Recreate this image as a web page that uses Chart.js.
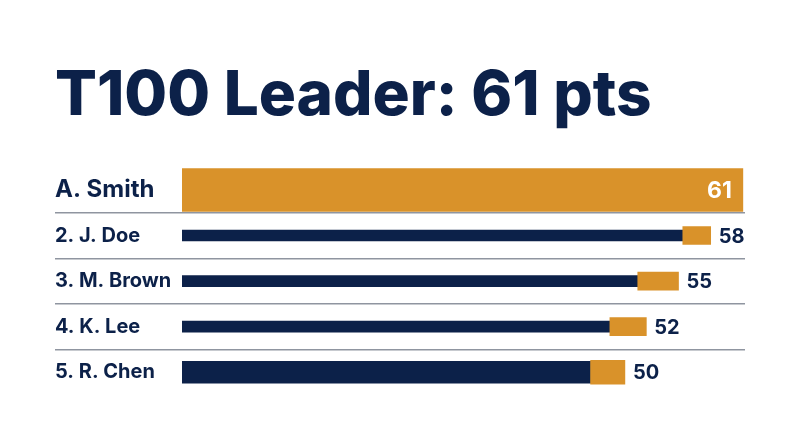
<html>
<head>
<meta charset="utf-8">
<title>T100 Leader</title>
<script src="https://cdn.jsdelivr.net/npm/chart.js@4.4.1/dist/chart.umd.min.js"></script>
<style>
    html, body { margin: 0; padding: 0; background: #ffffff; }
    .container { width: 800px; height: 447px; }
</style>
</head>
<body>
<div class="container">
    <canvas id="leaderChart"></canvas>
</div>
<script>
    // standings
    const players = ['A. Smith', '2. J. Doe', '3. M. Brown', '4. K. Lee', '5. R. Chen'];
    const points = [61, 58, 55, 52, 50];
    // where the gold (recent) part of each trailing bar starts
    const recentFrom = [null, 55.4, 51.2, 48.6, 46.8];

    const gold = '#d9922a';
    const navy = '#0c2149';
    const rule = '#8f95a0';

    // leader row, rows 2-4, and the last row use different bar thickness
    let leaderData = points.map(function (v, i) { return i === 0 ? v : null; });
    let trailData = points.map(function (v, i) { return (i > 0 && i < 4) ? recentFrom[i] : null; });
    let lastData = points.map(function (v, i) { return i === 4 ? recentFrom[i] : null; });
    let capData = points.map(function (v, i) { return (i > 0 && i < 4) ? [recentFrom[i], v] : null; });
    let lastCapData = points.map(function (v, i) { return i === 4 ? [recentFrom[i], v] : null; });

    const valueLabels = {
        id: 'valueLabels',
        afterDatasetsDraw(chart) {
            let ctx = chart.ctx;
            let xs = chart.scales.x;
            let ys = chart.scales.y;
            ctx.save();
            ctx.textBaseline = 'middle';
            points.forEach(function (v, i) {
                let x = xs.getPixelForValue(v);
                let y = ys.getPixelForValue(i);
                if (i === 0) {
                    ctx.font = 'bold 23px Inter';
                    ctx.fillStyle = '#ffffff';
                    ctx.textAlign = 'right';
                    ctx.fillText(String(v), x - 11, y + 1);
                } else {
                    ctx.font = 'bold 20px Inter';
                    ctx.fillStyle = navy;
                    ctx.textAlign = 'left';
                    ctx.fillText(String(v), x + 8, y + 1);
                }
            });
            ctx.restore();
        }
    };

    var ctx = document.getElementById('leaderChart').getContext('2d');
    var myChart = new Chart(ctx, {
        type: 'bar',
        data: {
            labels: players,
            datasets: [{
                label: 'Recent',
                data: capData,
                backgroundColor: gold,
                barThickness: 18
            }, {
                label: 'Recent last',
                data: lastCapData,
                backgroundColor: gold,
                barThickness: 24
            }, {
                label: 'Leader',
                data: leaderData,
                backgroundColor: gold,
                barThickness: 43
            }, {
                label: 'Earlier',
                data: trailData,
                backgroundColor: navy,
                barThickness: 11
            }, {
                label: 'Earlier last',
                data: lastData,
                backgroundColor: navy,
                barThickness: 22
            }]
        },
        options: {
            indexAxis: 'y',
            responsive: true,
            maintainAspectRatio: false,
            animation: false,
            datasets: {
                bar: { grouped: false, borderSkipped: false }
            },
            layout: {
                padding: { left: 55, right: 55, top: 0, bottom: 52 }
            },
            plugins: {
                legend: { display: false },
                tooltip: { enabled: false },
                title: {
                    display: true,
                    text: 'T100 Leader: 61 pts',
                    align: 'start',
                    color: navy,
                    font: { family: 'Inter', size: 62, weight: 800, lineHeight: 1.2 },
                    padding: { top: 59, bottom: 33.8 }
                }
            },
            scales: {
                x: {
                    display: false,
                    min: 8.7,
                    max: 61.2
                },
                y: {
                    border: { display: false },
                    grid: {
                        offset: true,
                        lineWidth: 1.5,
                        tickLength: 127,
                        color: function (c) {
                            return (c.index > 0 && c.index < 5) ? rule : 'rgba(0,0,0,0)';
                        }
                    },
                    ticks: {
                        crossAlign: 'far',
                        padding: 0,
                        color: navy,
                        font: function (c) {
                            return c.index === 0
                                ? { family: 'Inter', size: 24, weight: 'bold' }
                                : { family: 'Inter', size: 20, weight: 'bold' };
                        }
                    },
                    afterFit: function (scale) {
                        scale.width = 127;
                    }
                }
            }
        },
        plugins: [valueLabels]
    });
</script>
</body>
</html>
